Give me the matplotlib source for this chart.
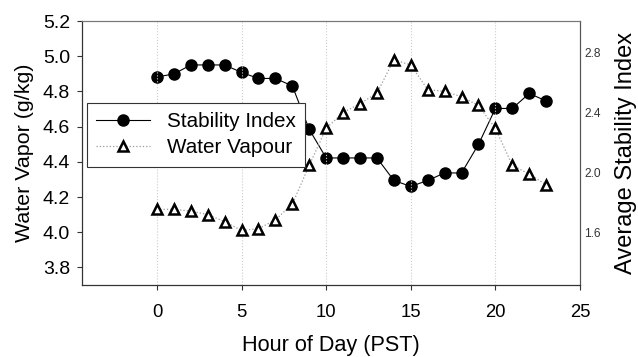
import matplotlib.pyplot as plt
import numpy as np

plt.rcParams['font.family'] = ['Liberation Sans', 'DejaVu Sans']

hours = list(range(24))
# average stability index (right axis)
stability = [2.64, 2.66, 2.72, 2.72, 2.72, 2.67, 2.63, 2.63, 2.58, 2.29,
             2.10, 2.10, 2.10, 2.10, 1.95, 1.91, 1.95, 2.00, 2.00, 2.19,
             2.43, 2.43, 2.53, 2.48]
# water vapour g/kg (left axis)
vapour = [4.13, 4.13, 4.12, 4.10, 4.06, 4.01, 4.02, 4.07, 4.16, 4.38,
          4.59, 4.68, 4.73, 4.79, 4.98, 4.95, 4.81, 4.80, 4.77, 4.72,
          4.59, 4.38, 4.33, 4.27]
left_ticks = [3.8, 4.0, 4.2, 4.4, 4.6, 4.8, 5.0, 5.2]
right_ticks = [1.6, 2.0, 2.4, 2.8]
x_ticks = [0, 5, 10, 15, 20, 25]

fig = plt.figure(figsize=(6.38, 3.57), dpi=100)
ax = fig.add_axes([82/638, 1-285/357, 498/638, 264/357])
ax2 = ax.twinx()

l2, = ax.plot(hours, vapour, ls=':', color='#999999', lw=0.9, marker='^',
              ms=7.5, mfc='white', mec='black', mew=1.8, zorder=3)
l1, = ax2.plot(hours, stability, ls='-', color='black', lw=0.8, marker='o',
               ms=8, mfc='black', mec='black', zorder=3)

ax.set_xlim(-4.43, 25)
ax.set_ylim(3.7, 5.2)
ax2.set_ylim(1.253, 3.013)
ax.set_xticks(x_ticks)
ax.set_yticks(left_ticks)
ax.set_yticklabels(['%.1f' % v for v in left_ticks])
ax2.set_yticks(right_ticks)
ax2.set_yticklabels(['%.1f' % v for v in right_ticks])

for x in x_ticks[:-1]:
    ax.axvline(x, color='#cccccc', ls=':', lw=0.8, zorder=0)

ax.tick_params(axis='both', direction='out', length=3.6, color='#333333')
ax.tick_params(axis='x', labelsize=13.3, pad=10)
ax.tick_params(axis='y', labelsize=14, pad=5)
ax2.tick_params(axis='y', labelsize=8.6, length=0, pad=3, labelcolor='#333333')

ax.spines['left'].set_color('#333333')
ax.spines['bottom'].set_color('#333333')
for a in (ax, ax2):
    a.spines['top'].set_color('#777777')
    a.spines['right'].set_color('#555555')

ax.set_xlabel('Hour of Day (PST)', fontsize=15.6, labelpad=10)
ax.set_ylabel('Water Vapor (g/kg)', fontsize=15.4, labelpad=6)
ax2.set_ylabel('Average Stability Index', fontsize=17, labelpad=10)

leg = ax.legend([l1, l2], ['Stability Index', 'Water Vapour'], loc='upper left',
                bbox_to_anchor=(0.01, 0.69), borderaxespad=0, fontsize=14.9,
                fancybox=False, framealpha=1, edgecolor='#333333', borderpad=0.45,
                handlelength=2.6, labelspacing=0.35, handletextpad=0.8)
leg.get_frame().set_linewidth(0.8)
leg.set_zorder(10)
ax.set_zorder(ax2.get_zorder() + 1)
ax.patch.set_visible(False)

plt.savefig('out.png', dpi=100)
